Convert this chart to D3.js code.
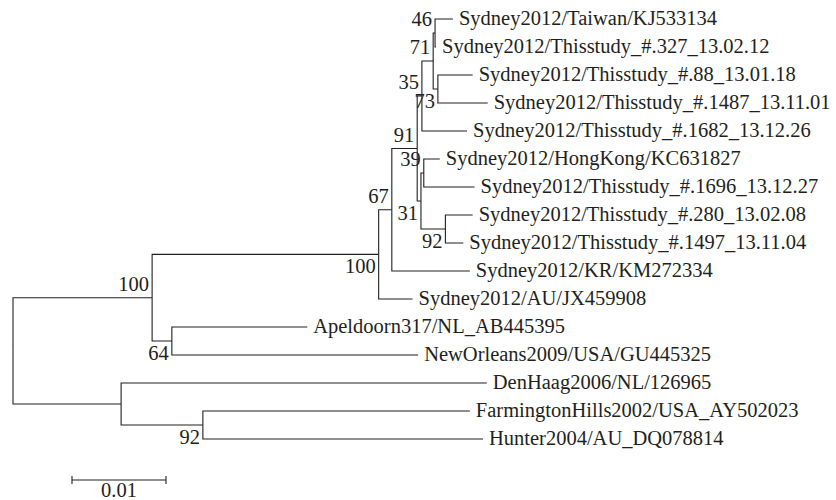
<!DOCTYPE html>
<html>
<head>
<meta charset="utf-8">
<script src="https://cdn.jsdelivr.net/npm/d3@7"></script>
<style>
	body { margin: 0; background: #fff; }
	#tree text { font-family: "Liberation Serif", "DejaVu Serif", serif; font-size: 20.5px; fill: #231f20; }
	#tree .branch { fill: none; stroke: #231f20; stroke-width: 1.1px; }
</style>
</head>
<body>
<svg id="tree" width="836" height="500" viewBox="0 0 836 500"></svg>
<script>

// tree topology, top to bottom: [node, parent, branch length (subst./site)]
const edges = [
	["root", null, 0],
	["gii4", "root", 0.0148],
	["syd", "gii4", 0.0241],
	["n67", "syd", 0.0014],
	["n91", "n67", 0.0027],
	["n35", "n91", 0.0005],
	["n71", "n35", 0.0012],
	["n46", "n71", 0.0002],
	["Sydney2012/Taiwan/KJ533134", "n46", 0.0019],
	["Sydney2012/Thisstudy_#.327_13.02.12", "n46", 0.0001],
	["n73", "n71", 0.0005],
	["Sydney2012/Thisstudy_#.88_13.01.18", "n73", 0.0037],
	["Sydney2012/Thisstudy_#.1487_13.11.01", "n73", 0.0053],
	["Sydney2012/Thisstudy_#.1682_13.12.26", "n35", 0.0048],
	["n31", "n91", 0.0004],
	["n39", "n31", 0.0003],
	["Sydney2012/HongKong/KC631827", "n39", 0.0017],
	["Sydney2012/Thisstudy_#.1696_13.12.27", "n39", 0.0054],
	["n92a", "n31", 0.0026],
	["Sydney2012/Thisstudy_#.280_13.02.08", "n92a", 0.0029],
	["Sydney2012/Thisstudy_#.1497_13.11.04", "n92a", 0.0019],
	["Sydney2012/KR/KM272334", "n67", 0.0083],
	["Sydney2012/AU/JX459908", "syd", 0.0036],
	["n64", "gii4", 0.0021],
	["Apeldoorn317/NL_AB445395", "n64", 0.0144],
	["NewOrleans2009/USA/GU445325", "n64", 0.0262],
	["other", "root", 0.0115],
	["DenHaag2006/NL/126965", "other", 0.0389],
	["n92b", "other", 0.0087],
	["FarmingtonHills2002/USA_AY502023", "n92b", 0.0284],
	["Hunter2004/AU_DQ078814", "n92b", 0.0298]
];

// bootstrap support per internal node
const bootstrapNodes = ["n46", "n71", "n35", "n73", "n91", "n39", "n31", "n92a", "n67", "syd", "gii4", "n64", "n92b"];
const bootstrapValues = [46, 71, 35, 73, 91, 39, 31, 92, 67, 100, 100, 64, 92];

const scaleBarLength = 0.01;
const scaleBarLabel = "0.01";

function whenDocumentLoaded(action) {
	if (document.readyState === "loading") {
		document.addEventListener("DOMContentLoaded", action);
	} else {
		action();
	}
}

whenDocumentLoaded(() => {
	const svg = d3.select("#tree");

	const root = d3.stratify()
		.id(d => d[0])
		.parentId(d => d[1])(edges);

	// cumulative distance from the root
	root.eachBefore(n => n.dist = (n.parent ? n.parent.dist : 0) + n.data[2]);

	const leaves = root.leaves();
	const y = d3.scaleLinear()
		.domain([0, leaves.length - 1])
		.range([19, 439]);
	const x = d3.scaleLinear()
		.domain([0, 0.01])
		.range([13, 107]);

	leaves.forEach((l, i) => l.py = y(i));
	root.eachAfter(n => {
		if (n.children) {
			n.py = (n.children[0].py + n.children[n.children.length - 1].py) / 2;
		}
		n.px = x(n.dist);
	});

	// elbow branches
	svg.append("g").selectAll("path")
		.data(root.descendants().filter(n => n.parent))
		.enter()
		.append("path")
		.classed("branch", true)
		.attr("d", n => "M" + n.parent.px + "," + n.parent.py + "V" + n.py + "H" + n.px);

	// tip names
	svg.append("g").selectAll("text")
		.data(leaves)
		.enter()
		.append("text")
		.attr("x", n => n.px + 6)
		.attr("y", n => n.py)
		.attr("dy", "0.3em")
		.text(n => n.id);

	// bootstrap values, above or below the node
	const below = new Set(["n73", "n31", "n92a", "syd", "n64", "n92b"]);
	const byId = new Map(root.descendants().map(n => [n.id, n]));
	svg.append("g").selectAll("text")
		.data(bootstrapNodes)
		.enter()
		.append("text")
		.attr("text-anchor", "end")
		.attr("x", id => byId.get(id).px - 3)
		.attr("y", id => byId.get(id).py + (below.has(id) ? 19 : -7))
		.text((id, i) => bootstrapValues[i]);

	// scale bar
	const barX = 72, barY = 480;
	const barW = x(scaleBarLength) - x(0);
	const bar = svg.append("g").attr("transform", "translate(" + barX + "," + barY + ")");
	bar.append("path")
		.classed("branch", true)
		.attr("d", "M0,-4V4M0,0H" + barW + "M" + barW + ",-4V4");
	bar.append("text")
		.attr("x", barW / 2)
		.attr("y", 17)
		.attr("text-anchor", "middle")
		.text(scaleBarLabel);
});
</script>
</body>
</html>
